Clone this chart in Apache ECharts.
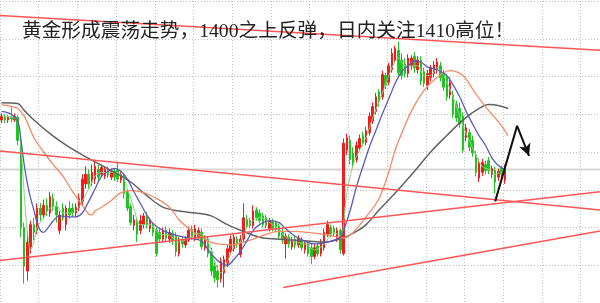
<!DOCTYPE html>
<html><head><meta charset="utf-8">
<script src="https://cdn.jsdelivr.net/npm/echarts@6/dist/echarts.min.js"></script>
<style>html,body{margin:0;padding:0;background:#fff}#c{width:600px;height:303px}</style>
</head><body><div id="c"></div>
<script>
// ---- data (prices) ----
const titleText = '黄金形成震荡走势，1400之上反弹，日内关注1410高位！';
const barCount = 186; // visible bar slots incl. right-side empty space
const categories = Array.from({length: barCount}, (_, i) => String(i));

const openP = [1407.6,1407.9,1407.6,1407.9,1407.6,1407.9,1405.5,1396.5,1392.0,1394.5,
1396.8,1396.2,1398.5,1397.8,1398.8,1398.0,1399.5,1398.7,1396.2,1398.5,
1396.8,1398.5,1398.5,1398.0,1398.5,1399.2,1401.0,1402.0,1401.2,1401.5,
1402.5,1402.0,1401.8,1402.5,1401.7,1402.3,1402.4,1401.4,1401.8,1400.2,
1398.7,1396.7,1397.2,1396.2,1396.8,1397.7,1396.4,1396.8,1396.2,1396.0,
1395.3,1396.2,1395.3,1395.9,1395.6,1393.8,1395.2,1394.7,1395.2,1396.3,
1395.4,1395.5,1396.0,1394.4,1395.3,1394.0,1392.5,1392.0,1391.2,1391.8,
1392.8,1394.0,1394.3,1395.3,1393.7,1395.3,1397.3,1397.2,1396.7,1398.3,
1398.0,1397.7,1397.5,1396.4,1397.1,1397.0,1396.6,1396.0,1394.8,1395.5,
1394.5,1395.3,1394.7,1395.2,1394.2,1394.8,1394.4,1393.5,1394.6,1393.8,
1394.4,1395.8,1396.5,1396.4,1395.3,1396.2,1393.8,1404.5,1405.5,1404.2,
1403.5,1404.7,1406.0,1405.3,1406.3,1407.5,1408.5,1410.5,1410.0,1412.2,
1411.5,1412.8,1413.8,1414.8,1413.8,1413.4,1412.4,1413.2,1414.2,1412.8,
1413.8,1412.6,1411.2,1412.0,1412.4,1412.8,1413.2,1412.4,1412.0,1410.2,
1410.2,1409.2,1408.8,1408.0,1405.8,1406.3,1405.5,1404.0,1401.6,1402.2,
1403.0,1403.4,1402.0,1402.4,1401.7,1402.6,1401.4];
const closeP = [1408.0,1407.6,1407.9,1407.7,1408.0,1405.5,1396.5,1392.5,1395.0,1396.8,
1396.0,1398.5,1397.8,1398.8,1398.2,1399.7,1398.7,1397.8,1397.8,1397.5,
1398.5,1397.8,1398.0,1398.6,1399.5,1401.5,1402.0,1401.0,1402.2,1402.8,
1401.7,1402.7,1402.5,1401.9,1402.3,1401.7,1401.5,1402.0,1400.0,1398.5,
1397.0,1397.3,1395.8,1397.2,1397.7,1396.8,1397.2,1396.0,1393.8,1395.3,
1396.2,1395.4,1396.0,1395.1,1394.0,1395.2,1394.8,1395.3,1396.2,1395.5,
1396.4,1396.2,1394.5,1395.4,1393.8,1392.0,1391.3,1391.1,1393.0,1393.2,
1394.3,1395.3,1395.5,1394.7,1395.3,1397.5,1396.7,1396.7,1398.2,1397.5,
1397.2,1396.8,1396.7,1397.2,1396.4,1396.3,1395.6,1395.2,1395.6,1394.8,
1395.2,1394.7,1395.4,1394.4,1394.9,1393.8,1393.5,1394.4,1393.8,1395.0,
1396.0,1396.8,1395.8,1395.9,1396.2,1394.2,1405.2,1405.8,1403.5,1403.0,
1405.0,1405.7,1405.2,1406.5,1408.0,1409.0,1410.0,1409.5,1412.3,1411.2,
1413.2,1414.5,1415.0,1412.5,1412.2,1412.4,1414.0,1414.0,1413.0,1413.8,
1411.6,1411.4,1412.4,1413.0,1413.3,1413.6,1412.0,1411.0,1410.0,1411.5,
1408.2,1407.8,1407.2,1404.5,1406.8,1404.8,1404.2,1402.2,1403.2,1403.2,
1402.4,1402.4,1402.6,1401.2,1402.3,1402.0,1402.6];
const highP = [1408.3,1408.2,1408.1,1408.9,1408.3,1408.1,1406.0,1397.0,1396.0,1397.2,
1397.5,1399.0,1399.0,1399.4,1399.5,1400.2,1400.0,1399.2,1398.2,1399.0,
1398.8,1399.2,1399.0,1399.0,1400.0,1402.0,1402.8,1402.5,1403.0,1403.5,
1403.0,1403.0,1402.8,1402.8,1402.6,1402.6,1403.3,1402.3,1402.0,1400.5,
1399.0,1397.8,1397.5,1397.8,1398.0,1398.1,1397.5,1397.0,1396.5,1396.4,
1396.5,1396.6,1396.4,1396.2,1396.0,1395.5,1395.5,1395.6,1396.6,1396.7,
1396.8,1396.5,1396.4,1395.7,1395.6,1394.4,1393.0,1392.6,1393.4,1393.6,
1394.7,1395.7,1395.8,1395.6,1395.7,1399.0,1397.8,1397.5,1398.8,1398.6,
1398.4,1398.0,1397.8,1397.5,1397.4,1397.2,1396.9,1396.4,1395.9,1395.8,
1395.5,1395.6,1395.7,1395.5,1395.2,1395.1,1394.8,1394.8,1394.9,1395.3,
1396.4,1397.2,1396.8,1396.7,1396.5,1396.4,1405.7,1406.2,1406.0,1404.8,
1405.4,1406.1,1406.4,1406.9,1408.4,1409.4,1410.4,1410.8,1412.7,1412.5,
1413.5,1415.0,1415.3,1415.7,1414.5,1414.0,1414.4,1414.3,1414.6,1414.2,
1414.2,1413.0,1412.8,1413.3,1413.7,1414.0,1413.6,1412.8,1412.4,1412.0,
1410.6,1409.6,1409.4,1408.4,1407.2,1406.7,1406.0,1404.4,1403.6,1403.6,
1403.4,1403.8,1402.9,1402.8,1402.6,1402.9,1403.0];
const lowP = [1407.3,1407.3,1407.3,1407.4,1407.4,1405.0,1395.5,1390.7,1391.0,1393.8,
1395.2,1395.8,1397.2,1397.4,1397.7,1397.6,1398.2,1397.0,1395.8,1397.2,
1396.2,1397.4,1397.6,1397.6,1398.2,1398.8,1400.5,1400.5,1400.8,1401.0,
1401.2,1401.7,1401.5,1401.6,1401.4,1401.3,1401.2,1401.1,1399.5,1398.2,
1396.7,1396.2,1395.0,1395.8,1396.4,1396.4,1396.0,1395.6,1393.5,1395.0,
1395.0,1395.1,1394.9,1394.7,1393.5,1393.5,1394.4,1394.4,1395.0,1395.2,
1395.1,1395.2,1394.2,1394.1,1393.4,1391.5,1390.8,1390.3,1390.8,1390.3,
1392.4,1393.7,1394.0,1394.4,1393.4,1395.0,1396.4,1396.4,1396.4,1397.2,
1396.9,1396.5,1396.4,1396.1,1396.1,1396.0,1395.3,1394.8,1393.3,1394.4,
1394.2,1394.3,1394.4,1394.1,1393.8,1393.5,1392.7,1393.2,1393.5,1393.5,
1394.1,1395.5,1395.5,1395.6,1395.0,1393.8,1393.6,1404.0,1403.0,1402.7,
1403.2,1404.4,1404.9,1405.0,1406.0,1407.2,1408.2,1409.0,1409.7,1410.8,
1411.2,1412.5,1413.5,1412.0,1411.8,1412.0,1412.0,1412.8,1412.5,1412.4,
1411.2,1411.0,1410.7,1411.6,1412.0,1412.4,1411.6,1410.6,1409.6,1409.8,
1407.8,1407.4,1406.8,1404.2,1405.4,1404.4,1403.8,1401.8,1401.2,1401.8,
1402.0,1402.0,1401.6,1400.0,1401.3,1401.7,1401.0];

// moving averages read at sample bars: [barIndex, price]
const maSlowGrey = [[0,1409.4],[5,1409.3],[7,1408.6],[10,1407.6],[15,1406.2],[20,1405.0],[25,1404.0],[30,1403.1],[35,1402.2],[40,1401.2],[45,1399.8],[50,1398.6],[55,1398.2],[60,1398.0],[65,1397.7],[70,1396.8],[75,1396.1],[80,1395.5],[85,1395.3],[90,1395.2],[95,1395.1],[100,1395.0],[105,1395.3],[110,1396.1],[113,1396.8],[117,1398.3],[121,1399.7],[124,1400.8],[128,1402.3],[133,1404.3],[138,1406.0],[143,1407.6],[148,1408.8],[151,1409.2],[154,1409.1],[157,1408.8]];
const maMidOrange = [[0,1409.2],[3,1409.0],[5,1408.8],[7,1408.0],[10,1405.8],[13,1404.3],[16,1403.0],[19,1401.8],[22,1400.2],[25,1398.8],[27,1397.9],[28,1397.8],[29,1398.2],[31,1398.6],[34,1399.3],[37,1400.1],[40,1400.3],[44,1400.1],[48,1399.5],[52,1398.6],[55,1397.3],[58,1396.4],[61,1395.7],[64,1395.1],[67,1394.8],[71,1394.7],[74,1394.9],[78,1395.3],[82,1395.8],[86,1396.1],[90,1396.1],[95,1396.0],[100,1395.8],[104,1395.5],[106,1395.4],[109,1396.0],[113,1397.6],[117,1399.5],[120,1402.2],[122,1404.5],[124,1406.2],[127,1408.5],[131,1410.7],[135,1412.0],[139,1412.7],[143,1412.2],[146,1410.8],[149,1409.4],[152,1408.2],[155,1407.0],[157,1406.0]];
const maFastBlue = [[0,1408.5],[3,1408.2],[5,1407.5],[6,1405.5],[7,1403.0],[8,1401.0],[9,1399.5],[10,1398.3],[11,1397.0],[12,1396.2],[13,1396.0],[14,1396.3],[16,1397.2],[18,1397.7],[21,1397.6],[23,1397.6],[25,1398.0],[27,1399.2],[29,1400.5],[31,1401.8],[33,1402.3],[35,1402.6],[37,1402.3],[39,1401.5],[41,1400.2],[43,1399.0],[45,1397.8],[47,1396.9],[50,1396.2],[54,1395.7],[58,1395.4],[62,1395.1],[64,1394.2],[66,1393.4],[68,1392.8],[70,1392.6],[72,1393.2],[74,1394.0],[76,1395.1],[78,1396.2],[80,1396.8],[83,1397.2],[86,1397.0],[88,1396.4],[91,1395.6],[94,1395.1],[97,1394.8],[100,1394.9],[103,1395.2],[105,1395.5],[106,1396.2],[108,1398.2],[110,1400.7],[112,1402.8],[114,1404.8],[116,1406.5],[118,1408.2],[120,1409.8],[122,1411.4],[124,1412.6],[126,1413.2],[128,1413.7],[130,1413.6],[132,1413.1],[135,1412.8],[138,1412.2],[140,1411.2],[142,1410.0],[144,1408.5],[146,1407.2],[148,1406.0],[150,1405.0],[152,1403.7],[154,1402.9],[156,1402.5]];
const maQuickGreen = [[0,1408.0],[3,1407.9],[5,1407.5],[6,1405.0],[7,1400.0],[8,1396.0],[9,1394.2],[10,1395.0],[11,1396.5],[13,1397.5],[15,1398.5],[17,1398.7],[19,1398.0],[21,1398.0],[23,1398.2],[25,1399.2],[27,1400.5],[29,1401.8],[31,1402.2],[34,1402.2],[37,1402.0],[39,1400.5],[41,1398.5],[43,1396.8],[46,1396.8],[49,1395.8],[52,1395.7],[55,1395.0],[58,1395.4],[61,1395.9],[64,1395.0],[66,1393.0],[68,1391.8],[70,1393.0],[72,1394.5],[74,1395.0],[76,1396.5],[78,1397.2],[80,1397.5],[83,1397.0],[86,1396.3],[88,1395.5],[91,1395.0],[94,1394.8],[97,1394.2],[100,1394.8],[103,1396.0],[105,1395.6],[107,1400.0],[109,1403.0],[111,1404.5],[113,1405.8],[115,1407.8],[117,1409.5],[119,1411.2],[121,1413.0],[123,1414.0],[125,1413.2],[127,1413.2],[129,1413.2],[131,1412.2],[133,1412.2],[135,1413.0],[137,1412.2],[139,1410.8],[141,1409.0],[143,1407.0],[145,1405.5],[147,1404.0],[149,1402.8],[151,1402.5],[153,1402.0],[155,1402.2],[156,1402.3]];

// drawn lines: [barIndex, price] end points
const lastPriceLine = [[-0.5,1402.5],[185.5,1402.5]];
const trendTop = [[-0.5,1418.4],[185.5,1414.8]];
const trendFalling = [[-0.5,1404.4],[185.5,1398.3]];
const trendRising = [[-0.5,1393.1],[185.5,1400.2]];
const trendLowRising = [[87.3,1390.3],[185.5,1396.15]];
const arrowPath = [[153.0,1399.2],[159.8,1407.0],[163.5,1403.9]];

// ---- chart ----
const chart = echarts.init(document.getElementById('c'), null, {renderer: 'canvas'});
const candles = openP.map((o, i) => [o, closeP[i], lowP[i], highP[i]]);
const gridLine = {show: true, lineStyle: {color: '#c2c2c2', width: 1, type: [1, 2]}};
function maLine(data, color, width) {
  return {type: 'line', xAxisIndex: 1, yAxisIndex: 0, data: data, smooth: 0.35,
    showSymbol: false, symbol: 'none', silent: true,
    lineStyle: {color: color, width: width}, z: 3};
}
function redLine(data) {
  return {type: 'line', xAxisIndex: 1, yAxisIndex: 0, data: data, symbol: 'none', silent: true,
    lineStyle: {color: '#ff5555', width: 1.5}, z: 4};
}
const arrowData = arrowPath.map((p, i) => i === arrowPath.length - 1
  ? {value: p, symbol: 'arrow', symbolSize: [9, 12], symbolRotate: 201}
  : {value: p, symbol: 'none'});

chart.setOption({
  animation: false,
  backgroundColor: '#ffffff',
  grid: {left: 0, top: 1, width: 600, height: 312},
  xAxis: [
    {type: 'category', data: categories, boundaryGap: true,
     axisLine: {show: false}, axisTick: {show: false}, axisLabel: {show: false},
     splitLine: Object.assign({interval: 11}, gridLine)},
    {type: 'value', min: -0.5, max: 185.5, show: false}
  ],
  yAxis: [
    {type: 'value', min: 1388.7, max: 1419.9, show: false},
    {type: 'value', min: 0, max: 8, interval: 1,
     axisLine: {show: false}, axisTick: {show: false}, axisLabel: {show: false},
     splitLine: gridLine}
  ],
  series: [
    {type: 'line', xAxisIndex: 1, yAxisIndex: 0, data: lastPriceLine, symbol: 'none', silent: true,
     lineStyle: {color: '#d6d6d6', width: 2}, z: 1},
    {type: 'candlestick', xAxisIndex: 0, yAxisIndex: 0, data: candles, barWidth: 2,
     itemStyle: {color: '#f21c1c', color0: '#1fc41f', borderColor: '#f21c1c', borderColor0: '#1fc41f', borderWidth: 1},
     z: 2},
    maLine(maQuickGreen, '#86d486', 1),
    maLine(maSlowGrey, '#626262', 1.5),
    maLine(maMidOrange, '#f58a64', 1.3),
    maLine(maFastBlue, '#5b5bb8', 1.3),
    redLine(trendTop), redLine(trendFalling), redLine(trendRising), redLine(trendLowRising),
    {type: 'line', xAxisIndex: 1, yAxisIndex: 0, data: arrowData, showSymbol: true, silent: true,
     lineStyle: {color: '#111', width: 2}, itemStyle: {color: '#111'}, z: 6}
  ],
  graphic: [
    {type: 'text', left: 22, top: 22, z: 10,
     style: {text: titleText, fill: '#222', font: '19.7px "Liberation Serif", "Noto Sans CJK SC", serif'}}
  ]
});
</script></body></html>
